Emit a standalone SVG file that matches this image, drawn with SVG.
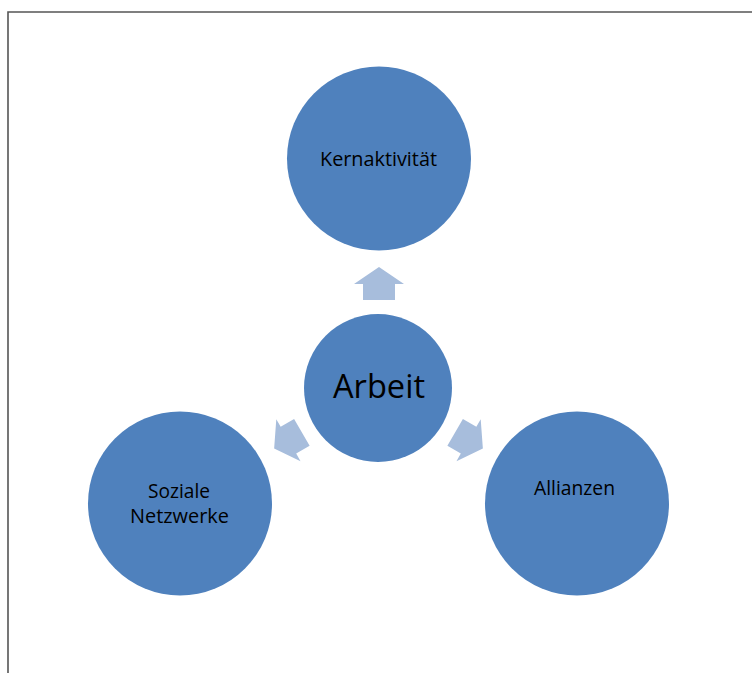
<svg xmlns="http://www.w3.org/2000/svg" width="752" height="673" viewBox="0 0 752 673">
<style>
.node{fill:#4F81BD;}
.lbl{font-family:"Open Sans","Liberation Sans",sans-serif;font-size:20px;fill:#000;text-anchor:middle;}
.big{font-size:33px;}
.arr{fill:#A7BDDC;}
</style>
<defs>
<path id="arrow" d="M0,-16.5 L25,0.5 L16,0.5 L16,16.5 L-16,16.5 L-16,0.5 L-25,0.5 Z"/>
</defs>
<rect width="752" height="673" fill="#ffffff"/>
<path d="M8,673 V12 H752" fill="none" stroke="#555" stroke-width="1.6"/>
<g id="connectors">
<use href="#arrow" class="arr" transform="translate(379,283.5)"/>
<use href="#arrow" class="arr" transform="translate(288,440.4) rotate(-120) scale(0.97)"/>
<use href="#arrow" class="arr" transform="translate(469,440.4) rotate(120) scale(0.97)"/>
</g>
<g id="kernaktivitaet">
<circle class="node" cx="379" cy="158.5" r="92"/>
<text class="lbl" x="378.5" y="166" textLength="117" lengthAdjust="spacingAndGlyphs">Kernaktivität</text>
</g>
<g id="arbeit">
<circle class="node" cx="378" cy="388" r="74"/>
<text class="lbl big" x="379" y="398" textLength="92" lengthAdjust="spacingAndGlyphs">Arbeit</text>
</g>
<g id="soziale-netzwerke">
<circle class="node" cx="180" cy="503.5" r="92"/>
<text class="lbl" x="179" y="498" textLength="62" lengthAdjust="spacingAndGlyphs">Soziale</text>
<text class="lbl" x="179.5" y="523" textLength="99" lengthAdjust="spacingAndGlyphs">Netzwerke</text>
</g>
<g id="allianzen">
<circle class="node" cx="577" cy="503.5" r="92"/>
<text class="lbl" x="574.5" y="495" textLength="81" lengthAdjust="spacingAndGlyphs">Allianzen</text>
</g>
</svg>
